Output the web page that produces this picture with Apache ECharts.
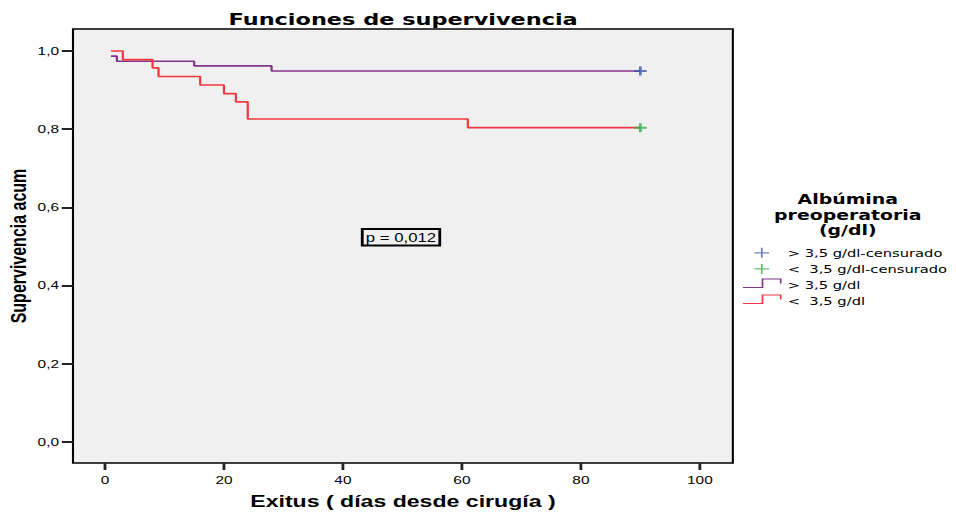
<!DOCTYPE html>
<html>
<head>
<meta charset="utf-8">
<script src="https://cdn.jsdelivr.net/npm/echarts@6/dist/echarts.min.js"></script>
<style>
  html, body { margin: 0; padding: 0; background: #ffffff; overflow: hidden; }
  #main { width: 683px; height: 513px; transform: scaleX(1.39971); transform-origin: 0 0; }
</style>
</head>
<body>
<div id="main"></div>
<script>
// ---- data ----
const titleText = 'Funciones de supervivencia';
const xAxisTitle = 'Exitus ( días desde cirugía )';
const yAxisTitle = 'Supervivencia acum';
const legendTitle = 'Albúmina\npreoperatoria\n(g/dl)';
const pValueText = 'p = 0,012';

const seriesNames = ['> 3,5 g/dl-censurado', '<  3,5 g/dl-censurado', '> 3,5 g/dl', '<  3,5 g/dl'];

// > 3,5 g/dl (purple) Kaplan-Meier steps
const highDays = [1, 2, 15, 28, 90];
const highSurv = [0.987, 0.974, 0.962, 0.949, 0.949];
// < 3,5 g/dl (red) Kaplan-Meier steps
const lowDays = [1, 3, 8, 9, 16, 20, 22, 24, 61, 90];
const lowSurv = [1.000, 0.978, 0.957, 0.935, 0.913, 0.891, 0.870, 0.826, 0.804, 0.804];
// censored marks
const highCensDays = [90];
const highCensSurv = [0.949];
const lowCensDays = [90];
const lowCensSurv = [0.804];

const xTickValues = [0, 20, 40, 60, 80, 100];
const xTickLabels = ['0', '20', '40', '60', '80', '100'];
const yTickValues = [0, 0.2, 0.4, 0.6, 0.8, 1.0];
const yTickLabels = ['0,0', '0,2', '0,4', '0,6', '0,8', '1,0'];

// ---- chart ----
const zip = (a, b) => a.map((v, i) => [v, b[i]]);
const chart = echarts.init(document.getElementById('main'), null, { renderer: 'svg' });

const purple = '#82338c';
const red = '#f2383d';
const blue = '#3d56a8';
const green = '#2fae4a';
const plusMark = 'path://M3.5,0H5.5V3.5H9V5.5H5.5V9H3.5V5.5H0V3.5H3.5Z';
const plusIcon = 'path://M0,0M27,13M8.25,6.5H18.75M13.5,1.5V11.5';
const stepIcon = 'path://M0,0M27,13M0,9H14V0.5H27V5';

const option = {
  animation: false,
  backgroundColor: '#ffffff',
  title: [
    {
      text: titleText, left: 288, top: 11.5, textAlign: 'center', padding: 0,
      textStyle: { fontFamily: 'DejaVu Sans', fontWeight: 'bold', fontSize: 16, color: '#000' }
    },
    {
      text: legendTitle, left: 605.7, top: 192, textAlign: 'center', padding: 0,
      textStyle: { fontFamily: 'DejaVu Sans', fontWeight: 'bold', fontSize: 13.5, lineHeight: 15.5, color: '#000' }
    }
  ],
  grid: {
    left: 52.14, right: 159.43, top: 29, bottom: 50, containLabel: false, outerBoundsMode: 'none',
    show: true, backgroundColor: '#f0f0f0', borderColor: '#000', borderWidth: 1.5
  },
  xAxis: {
    type: 'value', min: -5.379, max: 105.546,
    name: xAxisTitle, nameLocation: 'middle', nameGap: 30, nameMoveOverlap: false,
    nameTextStyle: { fontFamily: 'Liberation Sans', fontWeight: 'bold', fontSize: 16.5, color: '#000' },
    axisLine: { show: false, onZero: false },
    axisTick: { show: true, length: 7, customValues: xTickValues, lineStyle: { color: '#222', width: 2 } },
    axisLabel: {
      margin: 12, fontFamily: 'Liberation Sans', fontSize: 11, color: '#000',
      customValues: xTickValues,
      formatter: (v) => xTickLabels[xTickValues.indexOf(Math.round(v))]
    },
    splitLine: { show: false }
  },
  yAxis: {
    type: 'value', min: -0.0537, max: 1.0563,
    name: yAxisTitle, nameLocation: 'middle', nameGap: 31, nameRotate: 90, nameMoveOverlap: false,
    nameTextStyle: { fontFamily: 'Liberation Sans', fontWeight: 'bold', fontSize: 16, color: '#000' },
    axisLine: { show: false, onZero: false },
    axisTick: { show: true, length: 8, customValues: yTickValues, lineStyle: { color: '#222', width: 2 } },
    axisLabel: {
      margin: 10, fontFamily: 'Liberation Sans', fontSize: 11, color: '#000',
      customValues: yTickValues,
      formatter: (v) => yTickLabels[Math.round(v / 0.2)]
    },
    splitLine: { show: false }
  },
  legend: {
    orient: 'vertical', left: 530.1, top: 245.7, padding: 0,
    itemWidth: 27, itemHeight: 13, itemGap: 1.8, symbolKeepAspect: false,
    selectedMode: false,
    textStyle: { fontFamily: 'DejaVu Sans', fontSize: 10.5, color: '#000' },
    data: [
      { name: seriesNames[0], icon: plusIcon, itemStyle: { color: 'rgba(0,0,0,0)', borderColor: '#4a62b8', borderWidth: 1.3 } },
      { name: seriesNames[1], icon: plusIcon, itemStyle: { color: 'rgba(0,0,0,0)', borderColor: '#3db44e', borderWidth: 1.3 } },
      { name: seriesNames[2], icon: stepIcon, itemStyle: { color: 'rgba(0,0,0,0)', borderColor: purple, borderWidth: 1.2 } },
      { name: seriesNames[3], icon: stepIcon, itemStyle: { color: 'rgba(0,0,0,0)', borderColor: red, borderWidth: 1.2 } }
    ]
  },
  graphic: [
    {
      type: 'text', z: 10, x: 258.8, y: 229,
      style: {
        text: pValueText, fill: '#000', font: '12px "Liberation Sans"',
        padding: [2.5, 2.5, 2, 2.5], borderColor: '#000', borderWidth: 1, backgroundColor: 'rgba(0,0,0,0)'
      }
    }
  ],
  series: [
    {
      name: seriesNames[2], type: 'line', step: 'end', clip: false,
      data: zip(highDays, highSurv), showSymbol: false, symbol: 'none',
      lineStyle: { color: purple, width: 1.6 }, itemStyle: { color: purple }, z: 3
    },
    {
      name: seriesNames[3], type: 'line', step: 'end', clip: false,
      data: zip(lowDays, lowSurv), showSymbol: false, symbol: 'none',
      lineStyle: { color: red, width: 1.6 }, itemStyle: { color: red }, z: 3
    },
    {
      name: seriesNames[0], type: 'scatter', clip: false,
      data: zip(highCensDays, highCensSurv), symbol: plusMark, symbolSize: 9,
      itemStyle: { color: blue }, z: 5
    },
    {
      name: seriesNames[1], type: 'scatter', clip: false,
      data: zip(lowCensDays, lowCensSurv), symbol: plusMark, symbolSize: 9,
      itemStyle: { color: green }, z: 5
    }
  ]
};
chart.setOption(option);
</script>
</body>
</html>
